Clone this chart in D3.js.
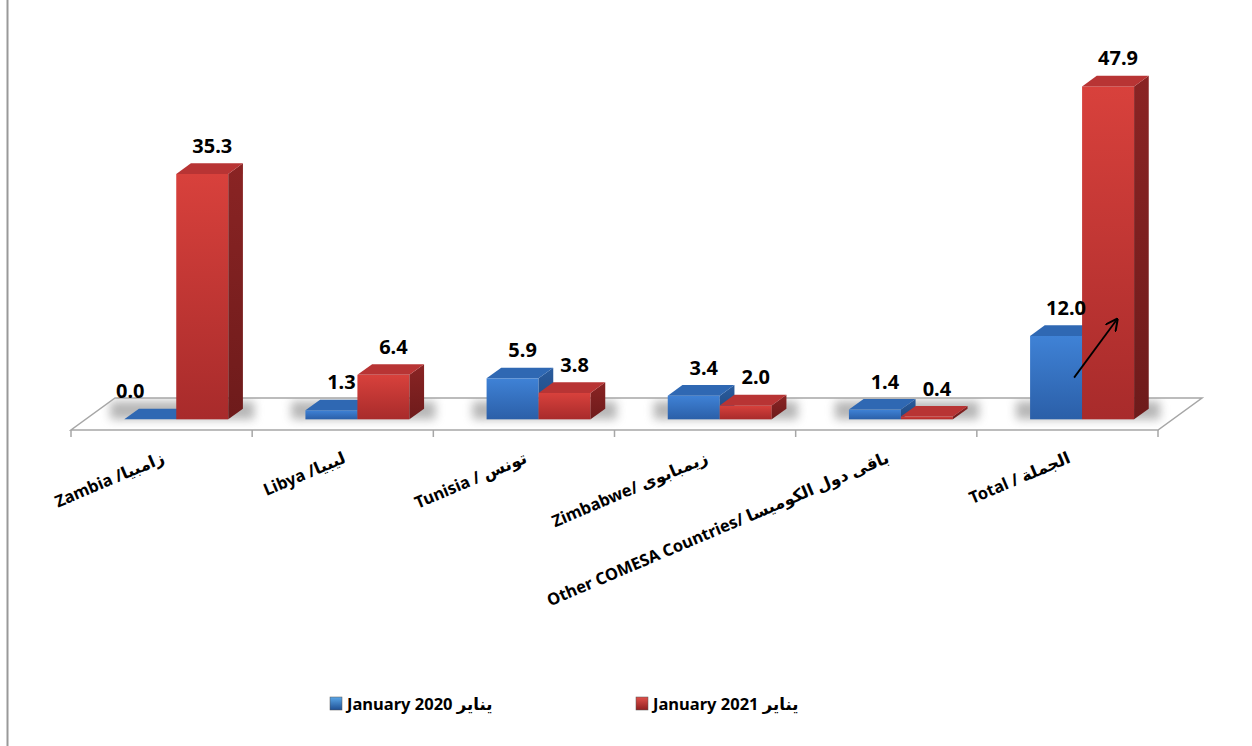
<!DOCTYPE html>
<meta charset="utf-8">
<style>
body {
  margin: 0;
  background: #fff;
}
svg {
  display: block;
}
.value-label {
  font-family: "Noto Sans", "DejaVu Sans", sans-serif;
  font-weight: bold;
  font-size: 20px;
  fill: #000;
}
.cat-label {
  font-family: "Noto Sans", "DejaVu Sans", sans-serif;
  font-weight: bold;
  font-size: 16.5px;
  fill: #000;
}
.legend text {
  font-family: "Noto Sans", "DejaVu Sans", sans-serif;
  font-weight: bold;
  font-size: 16.5px;
  fill: #000;
}
</style>
<body>
<script src="https://cdnjs.cloudflare.com/ajax/libs/d3/7.8.5/d3.min.js"></script>
<script>
var categories = ["Zambia /زامبيا", "Libya /ليبيا", "Tunisia / تونس", "Zimbabwe/ زيمبابوى",
                  "Other COMESA Countries/ باقى دول  الكوميسا", "Total / الجملة"];
var jan2020 = [0.0, 1.3, 5.9, 3.4, 1.4, 12.0];
var jan2021 = [35.3, 6.4, 3.8, 2.0, 0.4, 47.9];
var seriesNames = ["January 2020 يناير", "January 2021 يناير"];
// arrow drawn over the Total bars (values on the y scale)
var arrowFrom = 6.0, arrowTo = 14.4;

var width = 1252,
    height = 746;

var floorFront = 430,
    depthX = 44, depthY = -32;      // floor depth
var barDX = depthX / 3, barDY = depthY / 3;   // bar depth

var svg = d3.select("body").append("svg")
  .attr("width", width)
  .attr("height", height);

var defs = svg.append("defs");

function vgrad(id, top, bottom) {
  var g = defs.append("linearGradient").attr("id", id)
    .attr("x1", 0).attr("y1", 0).attr("x2", 0).attr("y2", 1);
  g.append("stop").attr("offset", "0%").attr("stop-color", top);
  g.append("stop").attr("offset", "100%").attr("stop-color", bottom);
}
vgrad("redFront", "#d8413c", "#a82b2b");
vgrad("redSide", "#8a2424", "#6e1b1b");
vgrad("blueFront", "#3f82d6", "#2b5fa8");
vgrad("blueSide", "#2a5c9e", "#1f477d");
vgrad("blueLeg", "#5aa7e8", "#1f4f93");
vgrad("redLeg", "#e0504a", "#8f2020");

defs.append("filter").attr("id", "blur")
  .attr("x", "-30%").attr("y", "-80%").attr("width", "160%").attr("height", "260%")
  .append("feGaussianBlur").attr("stdDeviation", 5);

var series = [
  {name: seriesNames[0], values: jan2020, front: "url(#blueFront)", side: "url(#blueSide)", top: "#2f68b3", leg: "url(#blueLeg)"},
  {name: seriesNames[1], values: jan2021, front: "url(#redFront)", side: "url(#redSide)", top: "#b83434", leg: "url(#redLeg)"}
];

var x = d3.scaleBand().domain(categories).range([71, 1158]);
var gap = x.bandwidth() * 0.426;
var x1 = d3.scaleBand().domain([0, 1]).range([gap / 2, x.bandwidth() - gap / 2]);
var y = d3.scaleLinear().domain([0, 50]).range([floorFront + barDY, floorFront + barDY - 347.5]);

// left border line
svg.append("line")
  .attr("x1", 7.5).attr("x2", 7.5).attr("y1", 0).attr("y2", height)
  .attr("stroke", "#999").attr("stroke-width", 2);

// floor
var x0 = x.range()[0], xN = x.range()[1];
var floorPts = [[x0, floorFront], [xN, floorFront], [xN + depthX, floorFront + depthY], [x0 + depthX, floorFront + depthY]].join(" ");
defs.append("clipPath").attr("id", "floorClip")
  .append("polygon")
  .attr("points", floorPts);

svg.append("polygon")
  .attr("points", floorPts)
  .attr("fill", "#fff");

// soft shadows on the floor
svg.append("g")
  .attr("clip-path", "url(#floorClip)")
  .selectAll("rect")
  .data(categories)
  .enter().append("rect")
    .attr("x", function(d) { return x(d) + x1(0) + barDX - 14; })
    .attr("width", x1.bandwidth() * 2 + 40)
    .attr("y", floorFront + barDY - 18)
    .attr("height", 18)
    .attr("fill", "#7a7a7a")
    .attr("opacity", 0.55)
    .attr("filter", "url(#blur)");

svg.append("polygon")
  .attr("points", floorPts)
  .attr("fill", "none")
  .attr("stroke", "#a6a6a6")
  .attr("stroke-width", 1.5);

// tick marks under the front edge
svg.append("g").selectAll("line")
  .data(d3.range(categories.length + 1))
  .enter().append("line")
    .attr("x1", function(i) { return x0 + i * x.bandwidth(); })
    .attr("x2", function(i) { return x0 + i * x.bandwidth(); })
    .attr("y1", floorFront)
    .attr("y2", floorFront + 7)
    .attr("stroke", "#a6a6a6")
    .attr("stroke-width", 1.5);

// bars
var bars = [];
categories.forEach(function(c, i) {
  series.forEach(function(s, k) {
    bars.push({cat: c, k: k, value: s.values[i], s: s});
  });
});

var barG = svg.append("g").selectAll("g")
  .data(bars)
  .enter().append("g");

function bx(d) { return x(d.cat) + x1(d.k) + barDX; }

barG.append("rect")
  .attr("x", bx)
  .attr("y", function(d) { return y(d.value); })
  .attr("width", x1.bandwidth())
  .attr("height", function(d) { return y(0) - y(d.value); })
  .attr("fill", function(d) { return d.s.front; });

barG.append("polygon")
  .attr("points", function(d) {
    var l = bx(d) + x1.bandwidth(), t = y(d.value), b = y(0);
    return [[l, t], [l + barDX, t + barDY], [l + barDX, b + barDY], [l, b]].join(" ");
  })
  .attr("fill", function(d) { return d.s.side; });

barG.append("polygon")
  .attr("points", function(d) {
    var l = bx(d), r = l + x1.bandwidth(), t = y(d.value);
    return [[l, t], [r, t], [r + barDX, t + barDY], [l + barDX, t + barDY]].join(" ");
  })
  .attr("fill", function(d) { return d.s.top; });

// value labels
svg.append("g").selectAll("text")
  .data(bars)
  .enter().append("text")
    .attr("class", "value-label")
    .attr("text-anchor", "middle")
    .attr("x", function(d) { return bx(d) + x1.bandwidth() / 2 + (d.value === 0 ? -20 : 10); })
    .attr("y", function(d) { return y(d.value) - 21; })
    .text(function(d) { return d.value.toFixed(1); });

// category labels
svg.append("g").selectAll("text")
  .data(categories)
  .enter().append("text")
    .attr("class", "cat-label")
    .attr("text-anchor", "end")
    .attr("transform", function(d) { return "translate(" + (x(d) + x.bandwidth() / 2 + 4) + ",462) rotate(-23)"; })
    .text(function(d) { return d; });

// arrow annotation on Total
defs.append("marker").attr("id", "arrowHead")
  .attr("viewBox", "0 0 10 10").attr("refX", 9).attr("refY", 5)
  .attr("markerWidth", 7).attr("markerHeight", 7).attr("orient", "auto")
  .append("path").attr("d", "M0,0 L10,5 L0,10").attr("fill", "none").attr("stroke", "#000").attr("stroke-width", 1.6);

var tot = categories[categories.length - 1];
svg.append("line")
  .attr("x1", x(tot) + x1(0) + barDX + x1.bandwidth() - 8)
  .attr("y1", y(arrowFrom))
  .attr("x2", x(tot) + x1(1) + barDX + 35)
  .attr("y2", y(arrowTo))
  .attr("stroke", "#000")
  .attr("stroke-width", 1.8)
  .attr("marker-end", "url(#arrowHead)");

// legend
var legX = d3.scaleOrdinal().domain([0, 1]).range([330, 636]);
var leg = svg.append("g").attr("class", "legend")
  .selectAll("g")
  .data(series)
  .enter().append("g")
    .attr("transform", function(d, i) { return "translate(" + legX(i) + ",697)"; });

leg.append("rect")
  .attr("width", 12).attr("height", 13)
  .attr("fill", function(d) { return d.leg; })
  .attr("stroke", "#555").attr("stroke-width", 0.5);

leg.append("text")
  .attr("x", 17)
  .attr("y", 12.5)
  .text(function(d) { return d.name; });
</script>
